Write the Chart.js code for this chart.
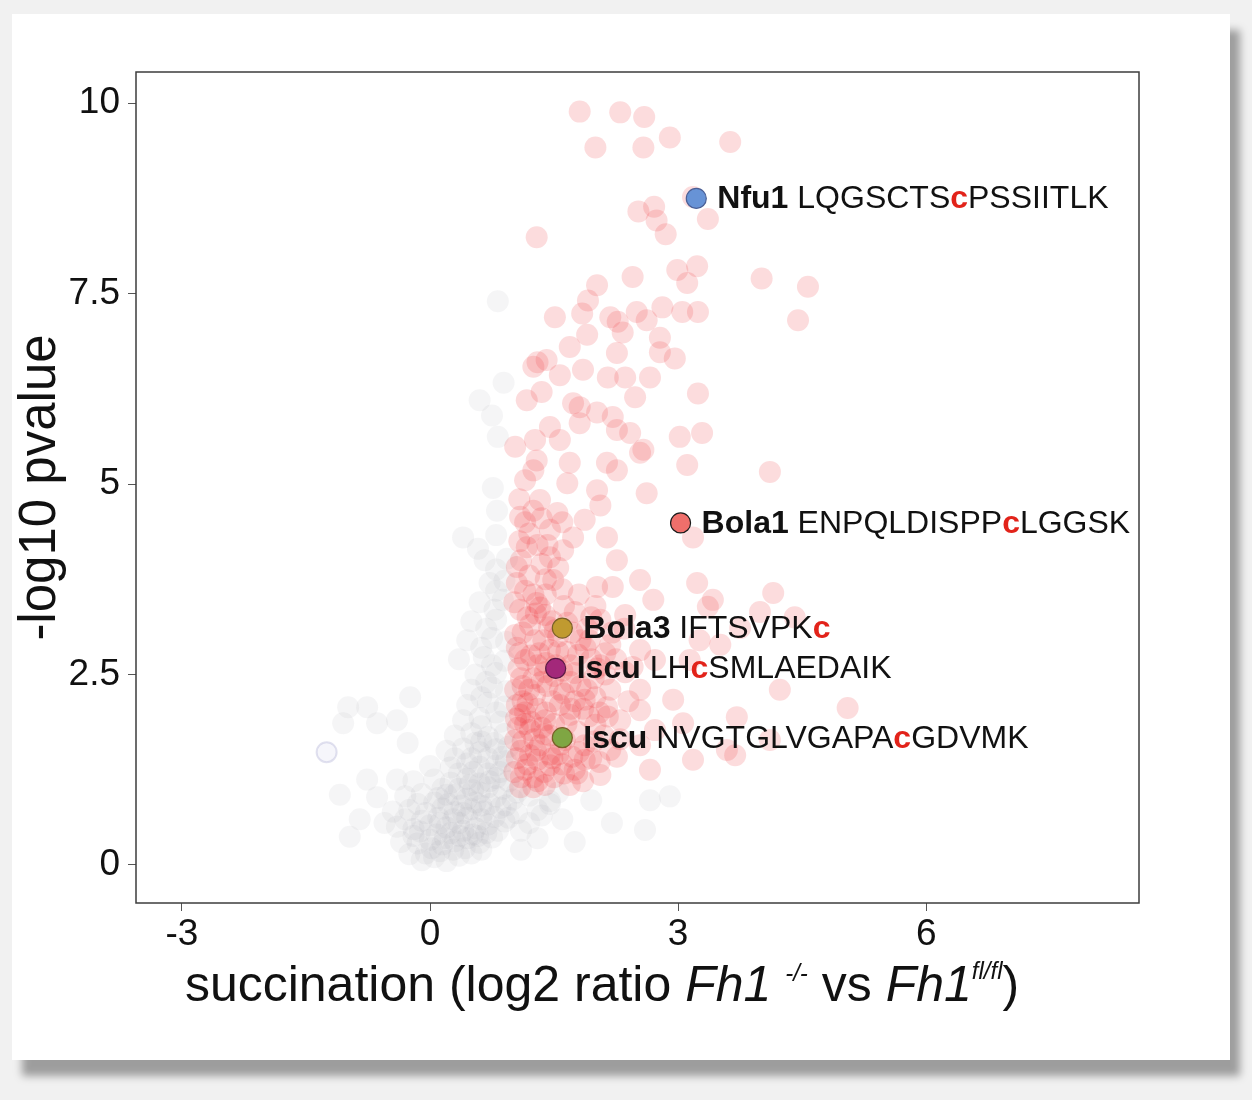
<!DOCTYPE html>
<html>
<head>
<meta charset="utf-8">
<script src="https://cdn.jsdelivr.net/npm/chart.js@4.4.1/dist/chart.umd.min.js"></script>
<style>
  body { margin: 0; background: #f1f1f1; width: 1252px; height: 1100px; overflow: hidden; }
  #card { position: absolute; left: 12px; top: 14px; width: 1218px; height: 1046px; background: #fff;
          box-shadow: 10px 16px 8px rgba(0,0,0,0.35); }
  #volcano { position: absolute; left: 0; top: 0; }
</style>
</head>
<body>
<div id="card"></div>
<canvas id="volcano" width="1252" height="1100"></canvas>
<script>
// 有意な(赤)点: [log2 ratio, -log10 p]
const sigPoints = [
  [1.81,9.89],[2.30,9.88],[2.59,9.82],[2.00,9.42],[2.58,9.42],[2.90,9.55],[3.63,9.49],
  [3.18,8.77],[2.52,8.58],[2.71,8.64],[2.74,8.46],[2.85,8.28],[3.36,8.48],[1.29,8.24],
  [2.45,7.72],[2.02,7.61],[2.99,7.81],[3.23,7.86],[3.11,7.64],[4.01,7.70],[4.57,7.59],[4.45,7.15],
  [1.91,7.41],[1.51,7.19],[1.84,7.24],[2.18,7.19],[2.50,7.26],[2.81,7.32],[3.05,7.26],[3.24,7.26],
  [2.27,7.13],[2.33,6.99],[1.90,6.96],[2.78,6.92],[2.62,7.15],[1.69,6.80],[1.25,6.54],[1.41,6.63],
  [1.57,6.43],[1.85,6.50],[2.26,6.72],[2.78,6.73],[2.96,6.65],[2.15,6.40],[2.36,6.40],[2.66,6.40],
  [1.17,6.10],[1.35,6.21],[1.73,6.06],[1.81,6.01],[2.02,5.94],[2.48,6.14],[3.24,6.19],[2.21,5.88],
  [2.26,5.71],[2.42,5.67],[1.45,5.75],[1.57,5.58],[1.27,5.58],[1.03,5.49],[1.81,5.80],[3.02,5.62],
  [3.29,5.67],[2.58,5.45],[1.29,5.31],[1.69,5.28],[3.11,5.25],[4.11,5.16],[2.14,5.28],[1.30,6.60],
  [1.25,5.18],[1.66,5.01],[1.54,4.62],[2.02,4.92],[1.17,4.17],[1.73,4.30],[2.14,4.30],[2.62,4.88],
  [2.26,5.18],[2.54,5.41],[1.09,4.57],[1.05,3.91],[1.45,4.04],[1.61,4.13],[2.26,4.00],[1.49,3.74],
  [2.02,3.65],[2.21,3.65],[2.54,3.74],[3.23,3.70],[1.29,3.44],[2.70,3.48],[3.18,4.30],[3.42,3.48],
  [1.33,4.79],[1.15,5.05],[1.87,4.53],[2.06,4.72],[1.20,4.35],[1.35,3.95],
  [1.10,4.00],[1.30,4.20],[1.45,4.40],[1.08,4.80],[1.35,4.55],[1.20,3.80],[1.55,3.90],[1.60,4.50],
  [1.09,3.35],[1.39,3.28],[1.75,3.32],[2.06,3.22],[2.36,3.28],[1.03,3.02],[1.27,2.95],[1.93,2.95],
  [2.18,2.89],[2.54,2.82],[1.15,2.69],[1.39,2.53],[1.79,2.76],[2.06,2.62],[2.36,2.53],[2.72,2.69],
  [1.03,2.30],[1.27,2.23],[1.57,2.30],[1.87,2.17],[2.18,2.30],[2.54,2.30],[1.09,1.97],[1.39,1.90],
  [1.69,1.97],[2.00,1.84],[2.30,1.90],[2.72,1.77],[1.03,1.64],[1.33,1.57],[1.87,1.57],[2.18,1.51],
  [2.54,1.57],[1.15,1.25],[1.45,1.31],[1.75,1.25],[2.06,1.18],[1.09,1.02],[1.39,1.05],[1.69,1.05],
  [1.21,3.15],[1.51,3.08],[1.57,2.10],[1.21,1.77],[1.87,1.38],[1.45,2.82],[1.63,1.64],[1.21,1.44],
  [1.10,2.45],[1.30,2.05],[1.15,1.85],[1.45,1.70],[1.25,1.15],[1.05,1.40],[1.60,2.55],[1.12,2.15],
  [1.02,3.45],[1.18,3.25],[1.33,3.38],[1.48,3.20],[1.62,3.40],[1.90,3.10],[2.20,3.05],[1.05,2.85],
  [1.22,2.75],[1.37,2.95],[1.55,2.80],[1.70,2.62],[1.95,2.70],[2.25,2.70],[1.07,2.58],[1.25,2.45],
  [1.42,2.35],[1.70,2.40],[1.98,2.45],[2.40,2.15],[1.05,2.10],[1.20,2.30],[1.48,2.15],[1.75,2.15],
  [2.05,2.00],[1.06,1.80],[1.26,1.65],[1.50,1.85],[1.78,1.75],[2.10,1.70],[1.10,1.50],[1.30,1.38],
  [1.55,1.45],[1.62,1.20],[1.95,1.40],[1.02,1.22],[1.30,1.10],[1.50,1.15],[1.85,1.10],[1.15,3.60],
  [1.40,3.55],[1.60,3.62],[1.80,3.55],[1.35,1.80],[1.15,2.00],[1.65,2.80],[1.40,2.65],[1.90,2.30],
  [1.55,3.00],[2.00,3.40],[2.35,3.10],[2.45,2.60],[2.30,1.65],[2.05,1.35],
  [1.12,3.05],[1.28,3.30],[1.44,3.12],[1.66,3.18],[1.82,2.95],[1.08,2.78],[1.30,2.62],[1.52,2.62],
  [1.75,2.52],[2.12,2.50],[1.12,2.35],[1.35,2.40],[1.62,2.25],[1.82,2.35],[2.00,2.20],[1.18,2.12],
  [1.40,2.00],[1.65,1.85],[1.92,1.95],[1.04,1.92],[1.22,1.88],[1.38,1.72],[1.58,1.58],[1.80,1.48],
  [1.12,1.62],[1.28,1.50],[1.45,1.45],[1.18,1.32],[1.38,1.22],[1.60,1.32],[1.10,1.15],[1.25,1.02],
  [1.48,1.40],[1.32,2.78],[1.50,2.48],[1.70,2.05],[1.25,3.55],[1.05,3.70],[1.40,3.75],[1.15,4.50],
  [1.25,4.65],[1.42,4.20],[1.08,4.25],
  [1.72,3.05],[1.88,2.85],[2.02,2.58],[1.85,2.05],[1.98,1.62],[1.72,1.42],[2.12,2.78],[1.95,3.25],
  [1.78,1.20],[2.15,1.95],
  [4.15,3.57],[3.99,3.32],[4.41,3.25],[3.36,3.39],[3.75,3.11],[3.51,2.89],[3.14,2.69],[4.23,2.30],
  [3.71,1.94],[3.59,1.51],[2.94,2.17],[3.06,1.86],[3.18,1.38],[2.66,1.25],[2.26,1.42],[2.54,2.03],
  [2.14,2.07],[5.05,2.06],[4.11,1.64],[3.69,1.44],[3.26,2.95]
];

// 非有意な(灰)点
const nsPoints = [
  [-0.99,2.07],[-0.76,2.07],[-0.64,1.86],[-1.05,1.86],[-0.40,1.90],[-0.24,2.20],[-0.27,1.60],
  [-1.09,0.92],[-0.76,1.12],[-0.97,0.37],[-0.64,0.89],[-0.40,1.12],[-0.85,0.60],[-0.55,0.55],
  [-0.10,0.06],[0.05,0.10],[0.20,0.05],[0.35,0.12],[-0.25,0.14],[0.50,0.15],
  [-0.35,0.30],[-0.15,0.28],[0.00,0.33],[0.15,0.27],[0.30,0.31],[0.45,0.35],[0.60,0.29],[0.75,0.36],
  [-0.40,0.50],[-0.20,0.47],[0.00,0.52],[0.20,0.49],[0.35,0.55],[0.55,0.48],[0.70,0.53],[0.90,0.57],[1.10,0.45],
  [-0.45,0.70],[-0.25,0.72],[-0.05,0.68],[0.15,0.74],[0.30,0.69],[0.50,0.73],[0.65,0.70],[0.85,0.75],[1.05,0.68],[1.30,0.72],
  [-0.30,0.90],[-0.10,0.93],[0.10,0.88],[0.30,0.92],[0.45,0.87],[0.60,0.95],[0.80,0.90],[1.00,0.86],[1.20,0.91],[1.45,0.84],
  [-0.20,1.10],[0.05,1.12],[0.25,1.08],[0.45,1.13],[0.60,1.07],[0.80,1.14],[0.95,1.10],
  [0.00,1.30],[0.25,1.28],[0.45,1.33],[0.60,1.29],[0.80,1.31],[0.92,1.36],
  [0.20,1.50],[0.40,1.53],[0.60,1.48],[0.80,1.52],[0.95,1.55],
  [0.30,1.70],[0.50,1.73],[0.70,1.68],[0.90,1.72],
  [0.40,1.90],[0.60,1.93],[0.85,1.88],
  [0.45,2.10],[0.70,2.13],[0.90,2.08],
  [0.50,2.30],[0.75,2.33],[0.92,2.28],
  [0.55,2.50],[0.80,2.52],
  [0.35,2.70],[0.65,2.73],[0.90,2.68],
  [0.45,2.95],[0.75,2.98],[0.92,2.93],
  [0.50,3.20],[0.80,3.22],
  [0.60,3.45],[0.88,3.48],
  [0.72,3.70],[0.90,3.73],
  [0.66,4.00],[0.93,4.02],
  [0.40,4.30],[0.80,4.33],
  [0.81,4.65],[0.76,4.95],[0.82,5.62],[0.75,5.90],[0.89,6.33],[0.82,7.40],[0.60,6.10],
  [-0.05,0.15],[0.12,0.18],[0.28,0.20],[0.42,0.22],[0.62,0.20],[-0.20,0.38],[0.08,0.40],[0.25,0.42],
  [0.40,0.45],[0.52,0.40],[0.68,0.42],[0.82,0.45],[-0.30,0.60],[-0.10,0.58],[0.10,0.62],[0.28,0.60],
  [0.45,0.62],[0.62,0.60],[0.78,0.63],[0.95,0.62],[-0.15,0.80],[0.05,0.82],[0.22,0.80],[0.38,0.78],
  [0.55,0.82],[0.72,0.80],[0.92,0.78],[0.15,1.00],[0.35,1.00],[0.52,0.98],[0.70,1.02],[0.88,1.00],
  [0.35,1.20],[0.52,1.22],[0.70,1.20],[0.85,1.22],[0.50,1.40],[0.70,1.40],[0.88,1.42],[0.55,1.60],
  [0.78,1.60],[0.62,1.82],[0.80,2.00],[0.62,2.20],[0.68,2.40],[0.75,2.62],[0.62,2.85],[0.68,3.10],
  [0.78,3.35],[0.80,3.60],[0.80,3.88],[0.58,4.15],
  [0.02,0.22],[0.18,0.35],[0.36,0.38],[0.58,0.38],[-0.12,0.44],[0.12,0.55],[0.40,0.68],[0.62,0.78],
  [0.20,0.92],[0.48,1.05],[0.72,1.10],[0.30,1.40],[0.62,1.62],
  [1.60,0.60],[1.95,0.85],[2.20,0.55],[2.66,0.85],[2.60,0.46],[1.30,0.35],[1.75,0.30],[2.90,0.90],[1.45,0.80],[1.10,0.20],
  [1.20,0.55],[1.35,0.65],[1.05,0.95],[1.55,0.95]
];

// 外れ値(輪郭のみ)
const outlierPoints = [[-1.25,1.48]];

// 注目ペプチド
const hitGenes  = ["Nfu1", "Bola1", "Bola3", "Iscu", "Iscu"];
const hitSeqPre = ["LQGSCTS", "ENPQLDISPP", "IFTSVPK", "LH", "NVGTGLVGAPA"];
const hitSeqPost = ["PSSIITLK", "LGGSK", "", "SMLAEDAIK", "GDVMK"];
const hitX = [3.22, 3.03, 1.60, 1.52, 1.60];
const hitY = [8.75, 4.49, 3.11, 2.58, 1.67];
const hitFill = ["#6793d6", "#ef6f6b", "#c09a30", "#a3287a", "#7fa643"];
const hitBorder = ["#4a5f95", "#1a1a1a", "#7a6028", "#5a1a44", "#7a6028"];

// 軸目盛り
const xTicks = [-3, 0, 3, 6];
const yTicks = [0, 2.5, 5, 7.5, 10];

const FONT = '"Liberation Sans", Arial, Helvetica, sans-serif';

// 外枠
const framePlugin = {
  id: "frame",
  afterDraw(chart) {
    const a = chart.chartArea, ctx = chart.ctx;
    ctx.save();
    ctx.strokeStyle = "#3d3d3d";
    ctx.lineWidth = 1.5;
    ctx.strokeRect(a.left, a.top, a.right - a.left, a.bottom - a.top);
    ctx.restore();
  }
};

// ペプチドのラベル
const labelPlugin = {
  id: "hitLabels",
  afterDatasetsDraw(chart) {
    const ctx = chart.ctx;
    const meta = chart.getDatasetMeta(3);
    meta.data.forEach((pt, i) => {
      let x = pt.x + 21;
      const runs = [
        [hitGenes[i], "bold", "#111"],
        [" " + hitSeqPre[i], "normal", "#111"],
        ["c", "bold", "#e2231a"],
        [hitSeqPost[i], "normal", "#111"]
      ];
      ctx.save();
      ctx.textBaseline = "middle";
      runs.forEach(([t, w, c]) => {
        ctx.font = w + " 32px " + FONT;
        ctx.fillStyle = c;
        ctx.fillText(t, x, pt.y + 1);
        x += ctx.measureText(t).width;
      });
      ctx.restore();
    });
  }
};

// x軸タイトル (斜体・上付きを含む)
const xTitlePlugin = {
  id: "xTitle",
  afterDraw(chart) {
    const ctx = chart.ctx;
    const runs = [
      ["succination (log2 ratio ", "normal", 50, 0],
      ["Fh1", "italic", 50, 0],
      [" ", "normal", 50, 0],
      ["-/-", "italic", 24, -20],
      [" vs ", "normal", 50, 0],
      ["Fh1", "italic", 50, 0],
      ["fl/fl", "italic", 24, -22],
      [")", "normal", 50, 0]
    ];
    ctx.save();
    ctx.textBaseline = "alphabetic";
    let total = 0;
    runs.forEach(r => { ctx.font = r[1] + " " + r[2] + "px " + FONT; total += ctx.measureText(r[0]).width; });
    let x = 602 - total / 2;
    const base = 1001;
    ctx.fillStyle = "#111";
    runs.forEach(r => {
      ctx.font = r[1] + " " + r[2] + "px " + FONT;
      ctx.fillText(r[0], x, base + r[3]);
      x += ctx.measureText(r[0]).width;
    });
    ctx.restore();
  }
};

const toXY = p => ({ x: p[0], y: p[1] });

// order: 小さいほど上に描かれる
new Chart(document.getElementById("volcano"), {
  type: "scatter",
  data: {
    datasets: [
      {
        data: nsPoints.map(toXY),
        order: 4,
        backgroundColor: "rgba(165,165,172,0.11)",
        borderWidth: 0,
        pointRadius: 11
      },
      {
        data: outlierPoints.map(toXY),
        order: 3,
        backgroundColor: "rgba(240,240,248,0.6)",
        borderColor: "rgba(170,170,210,0.35)",
        borderWidth: 2,
        pointRadius: 10
      },
      {
        data: sigPoints.map(toXY),
        order: 2,
        backgroundColor: "rgba(236,38,46,0.16)",
        borderWidth: 0,
        pointRadius: 11
      },
      {
        data: hitX.map((x, i) => ({ x: x, y: hitY[i] })),
        order: 1,
        backgroundColor: hitFill,
        borderColor: hitBorder,
        borderWidth: 1.2,
        pointRadius: 10
      }
    ]
  },
  options: {
    responsive: false,
    animation: false,
    devicePixelRatio: 1,
    layout: { padding: { left: 0, top: 72, right: 113, bottom: 0 } },
    plugins: { legend: { display: false }, tooltip: { enabled: false } },
    elements: { point: { hoverRadius: 11 } },
    scales: {
      x: {
        type: "linear",
        min: -3.555,
        max: 8.573,
        afterFit: s => { s.height = 197; },
        afterBuildTicks: s => { s.ticks = xTicks.map(v => ({ value: v })); },
        grid: { drawOnChartArea: false, color: "#555", tickLength: 8 },
        border: { display: false },
        ticks: { font: { family: FONT, size: 37 }, color: "#111", padding: 2, maxRotation: 0 }
      },
      y: {
        type: "linear",
        min: -0.5,
        max: 10.41,
        afterFit: s => { s.width = 136; },
        afterBuildTicks: s => { s.ticks = yTicks.map(v => ({ value: v })); },
        grid: { drawOnChartArea: false, color: "#555", tickLength: 8 },
        border: { display: false },
        ticks: { font: { family: FONT, size: 37 }, color: "#111", padding: 8, callback: v => String(v) },
        title: {
          display: true,
          text: "-log10 pvalue",
          font: { family: FONT, size: 51 },
          color: "#111",
          padding: { top: 10, bottom: 0 }
        }
      }
    }
  },
  plugins: [framePlugin, labelPlugin, xTitlePlugin]
});
</script>
</body>
</html>
